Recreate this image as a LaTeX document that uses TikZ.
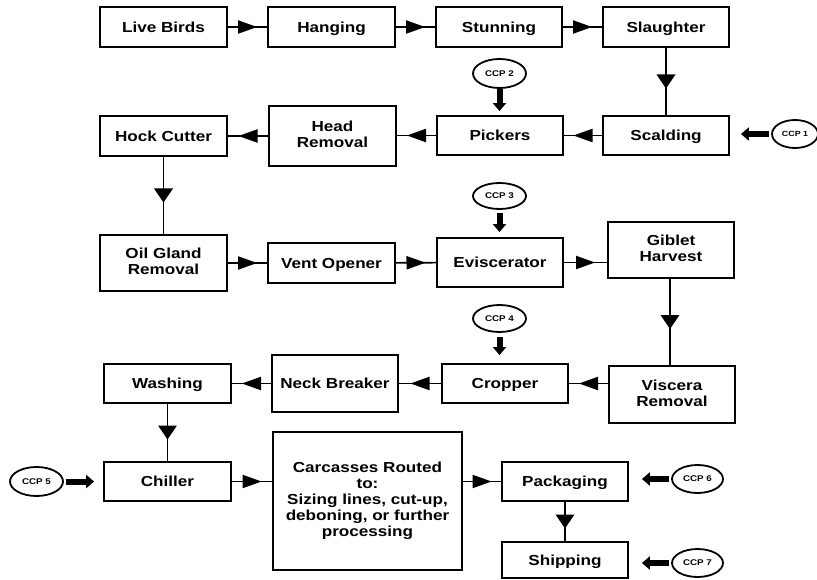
\documentclass[tikz,border=0pt]{standalone}
\usepackage{fontspec}
\setmainfont{Liberation Sans}[FakeStretch=1.18]
\usetikzlibrary{arrows.meta,decorations.markings,shapes.geometric}
\newcommand{\bxstrut}{\rule[-3pt]{0pt}{16.6pt}}
\begin{document}
\begin{tikzpicture}[x=1pt,y=-1pt,
  box/.style={draw, line width=1.8pt, align=center, inner sep=0pt,
    font=\fontsize{14.5}{16}\selectfont\bfseries,
    execute at begin node=\bxstrut, execute at end node=\bxstrut},
  ccp/.style={draw, ellipse, line width=1.8pt, inner sep=0pt,
    minimum width=53pt, minimum height=28pt, font=\fontsize{8.3}{9}\selectfont\bfseries},
  hflow/.style={line width=1.6pt, postaction={decorate}, decoration={markings,
    mark=at position 0.5 with {\fill (-9.5pt,6.8pt) -- (9.5pt,0pt) -- (-9.5pt,-6.8pt) -- cycle;}}},
  vflow/.style={line width=1.6pt, postaction={decorate}, decoration={markings,
    mark=at position 0.5 with {\fill (-7pt,9.5pt) -- (7pt,0pt) -- (-7pt,-9.5pt) -- cycle;}}},
  fat/.style={line width=6pt, -{Triangle[length=8pt,width=13pt]}}
]
\useasboundingbox (0,0) rectangle (817,580);
% boxes
\node[box, minimum width=127pt, minimum height=40pt] (live) at (163.5,27) {Live Birds};
\node[box, minimum width=127pt, minimum height=40pt] (hang) at (331.5,27) {Hanging};
\node[box, minimum width=126pt, minimum height=40pt] (stun) at (499,27) {Stunning};
\node[box, minimum width=126pt, minimum height=40pt] (slau) at (666,27) {Slaughter};
\node[box, minimum width=126pt, minimum height=39pt] (scald) at (666,135.5) {Scalding};
\node[box, minimum width=126pt, minimum height=39pt] (pick) at (500,135.5) {Pickers};
\node[box, minimum width=127pt, minimum height=60pt] (head) at (332.5,136) {Head\\Removal};
\node[box, minimum width=127pt, minimum height=40pt] (hock) at (163.5,136) {Hock Cutter};
\node[box, minimum width=127pt, minimum height=56pt] (oil) at (163.5,263) {Oil Gland\\Removal};
\node[box, minimum width=127pt, minimum height=40pt] (vent) at (331.5,263) {Vent Opener};
\node[box, minimum width=126pt, minimum height=49pt] (evis) at (500,262.5) {Eviscerator};
\node[box, minimum width=126pt, minimum height=56pt] (gib) at (671,250) {Giblet\\Harvest};
\node[box, minimum width=126pt, minimum height=57pt] (visc) at (672,394.5) {Viscera\\Removal};
\node[box, minimum width=126pt, minimum height=39pt] (crop) at (505,383.5) {Cropper};
\node[box, minimum width=126pt, minimum height=57pt] (neck) at (335,383.5) {Neck Breaker};
\node[box, minimum width=127pt, minimum height=39pt] (wash) at (167.5,383.5) {Washing};
\node[box, minimum width=127pt, minimum height=39pt] (chill) at (167.5,481.5) {Chiller};
\node[box, minimum width=189pt, minimum height=138pt] (carc) at (367.5,501) {Carcasses Routed\\to:\\Sizing lines, cut-up,\\deboning, or further\\processing};
\node[box, minimum width=126pt, minimum height=39pt] (pack) at (565,481.5) {Packaging};
\node[box, minimum width=126pt, minimum height=36pt] (ship) at (565,560) {Shipping};
% CCPs
\node[ccp, minimum width=46pt, font=\fontsize{7.5}{8}\selectfont\bfseries] (c1) at (795,134) {CCP 1};
\node[ccp, minimum height=29pt] (c2) at (499.5,73.5) {CCP 2};
\node[ccp, minimum height=26pt] (c3) at (499.5,196) {CCP 3};
\node[ccp, minimum height=27pt] (c4) at (499.5,318.5) {CCP 4};
\node[ccp, minimum height=29pt] (c5) at (36.5,481.5) {CCP 5};
\node[ccp, minimum width=51pt] (c6) at (697.5,479) {CCP 6};
\node[ccp, minimum width=51pt] (c7) at (697.5,563) {CCP 7};
% flow connectors
\draw[hflow] (live) -- (hang);
\draw[hflow] (hang) -- (stun);
\draw[hflow] (stun) -- (slau);
\draw[vflow] (slau) -- (scald);
\draw[hflow] (scald) -- (pick);
\draw[hflow] (pick.west) -- (head.east |- pick);
\draw[hflow] (head.west |- hock) -- (hock.east);
\draw[vflow] (hock) -- (oil);
\draw[hflow] (oil) -- (vent);
\draw[hflow] (vent) -- (evis);
\draw[hflow] (evis.east) -- (gib.west |- evis);
\draw[vflow] (gib.south -| 670,0) -- (visc.north -| 670,0);
\draw[hflow] (visc.west |- crop) -- (crop.east);
\draw[hflow] (crop) -- (neck);
\draw[hflow] (neck) -- (wash);
\draw[vflow] (wash) -- (chill);
\draw[hflow] (chill.east) -- (carc.west |- chill);
\draw[hflow] (carc.east |- pack) -- (pack.west);
\draw[vflow] (pack) -- (ship);
% CCP arrows
\draw[fat, shorten <=2pt, shorten >=11pt] (c1.west) -- (scald.east |- c1);
\draw[fat, shorten >=4pt] (c2.south) -- (pick.north -| c2);
\draw[fat, shorten <=3pt, shorten >=5pt] (c3.south) -- (evis.north -| c3);
\draw[fat, shorten <=4pt, shorten >=8pt] (c4.south) -- (crop.north -| c4);
\draw[fat, shorten <=2pt, shorten >=9pt] (c5.east) -- (chill.west);
\draw[fat, shorten <=2pt, shorten >=13pt] (c6.west) -- (pack.east |- c6);
\draw[fat, shorten <=2pt, shorten >=13pt] (c7.west) -- (ship.east |- c7);
\end{tikzpicture}
\end{document}
